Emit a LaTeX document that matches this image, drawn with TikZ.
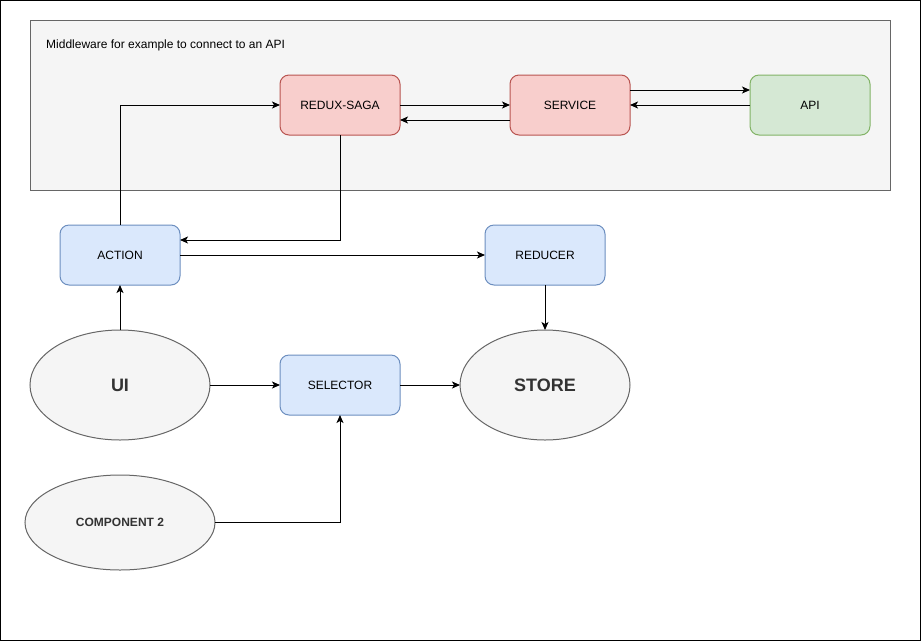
\documentclass[tikz,border=0pt]{standalone}
\usepackage{fontspec}
\setmainfont{Liberation Sans}
\usetikzlibrary{arrows.meta,shapes.geometric}
\definecolor{panelfill}{HTML}{F5F5F5}
\definecolor{panelline}{HTML}{666666}
\definecolor{redfill}{HTML}{F8CECC}
\definecolor{redline}{HTML}{B85450}
\definecolor{greenfill}{HTML}{D5E8D4}
\definecolor{greenline}{HTML}{82B366}
\definecolor{bluefill}{HTML}{DAE8FC}
\definecolor{blueline}{HTML}{6C8EBF}
\definecolor{darktext}{HTML}{333333}
\tikzset{
  box/.style={rectangle, rounded corners=9pt, minimum width=120pt, minimum height=60pt,
    inner sep=0pt, outer sep=0pt, line width=1pt, font=\fontsize{12}{14}\selectfont},
  redbox/.style={box, fill=redfill, draw=redline},
  greenbox/.style={box, fill=greenfill, draw=greenline},
  bluebox/.style={box, fill=bluefill, draw=blueline},
  blob/.style={ellipse, fill=panelfill, draw=panelline, line width=1pt, inner sep=0pt,
    outer sep=0pt, text=darktext},
  link/.style={line width=1pt, -{Stealth[length=8pt,width=7pt,inset=2pt]}},
}
\begin{document}
\begin{tikzpicture}[x=1pt,y=-1pt]
  \path[use as bounding box] (0,0) rectangle (921,641);
  % page frame
  \draw[line width=1pt] (0.5,0.5) rectangle (920.5,640.5);

  % middleware panel
  \node[rectangle, fill=panelfill, draw=panelline, line width=1pt, minimum width=860pt,
        minimum height=170pt, inner sep=0pt, anchor=north west] (panel) at (30,20) {};
  \node[anchor=west, inner sep=0pt, font=\fontsize{12}{14}\selectfont] (paneltitle)
        at (46,45) {Middleware for example to connect to an API};

  % boxes
  \node[redbox] (saga) at (340,105) {REDUX-SAGA};
  \node[redbox] (service) at (570,105) {SERVICE};
  \node[greenbox] (api) at (810,105) {API};
  \node[bluebox] (action) at (120,255) {ACTION};
  \node[bluebox] (reducer) at (545,255) {REDUCER};
  \node[bluebox] (selector) at (340,385) {SELECTOR};

  % ellipses
  \node[blob, minimum width=180pt, minimum height=110pt,
        font=\fontsize{18}{21}\selectfont\bfseries] (ui) at (120,385) {UI};
  \node[blob, minimum width=170pt, minimum height=110pt,
        font=\fontsize{18}{21}\selectfont\bfseries] (store) at (545,385) {STORE};
  \node[blob, minimum width=190pt, minimum height=95pt,
        font=\fontsize{12}{14}\selectfont\bfseries] (comp) at (120,522.5) {COMPONENT 2};

  % connectors
  \draw[link] (action.north) |- (saga.west);
  \draw[link] (saga.south) |- ([yshift=15pt]action.east);
  \draw[link] (saga.east) -- (service.west);
  \draw[link] ([yshift=-15pt]service.west) -- ([yshift=-15pt]saga.east);
  \draw[link] ([yshift=15pt]service.east) -- ([yshift=15pt]api.west);
  \draw[link] (api.west) -- (service.east);
  \draw[link] (action.east) -- (reducer.west);
  \draw[link] (reducer.south) -- (store.north);
  \draw[link] (ui.north) -- (action.south);
  \draw[link] (ui.east) -- (selector.west);
  \draw[link] (selector.east) -- (store.west);
  \draw[link] (comp.east) -| (selector.south);
\end{tikzpicture}
\end{document}
